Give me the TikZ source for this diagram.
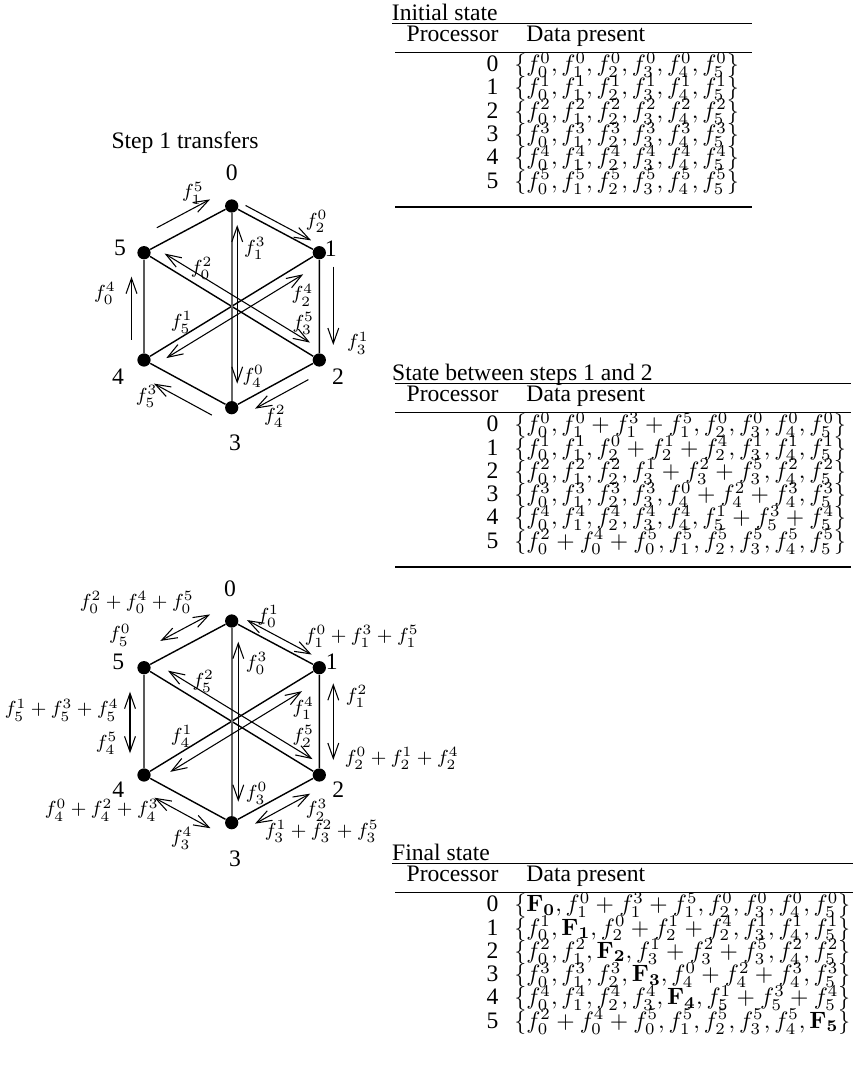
\documentclass[tikz,border=0pt]{standalone}
\usepackage[no-math]{fontspec}
\setmainfont{Liberation Serif}
\usetikzlibrary{calc,arrows.meta}
\tikzset{
  dot/.style={circle,fill=black,inner sep=0pt,minimum size=5.6pt},
  edge/.style={line width=0.6pt},
  medge/.style={line width=0.9pt,black!60},
  barb/.tip={Straight Barb[length=6.5pt,width=4.6pt]},
  arr/.style={line width=0.45pt,-barb},
  darr/.style={line width=0.45pt,barb-barb},
  lbl/.style={inner sep=0pt},
  flbl/.style={inner sep=0pt,font=\footnotesize},
  ttl/.style={inner sep=0pt,anchor=base west},
  hdr/.style={inner sep=0pt,anchor=base east},
  hdd/.style={inner sep=0pt,anchor=base west},
  rowno/.style={inner sep=0pt,anchor=base east},
  rowdat/.style={inner sep=0pt,anchor=base west},
  toprl/.style={line width=0.65pt},
  midrl/.style={line width=0.5pt},
  botrl/.style={line width=0.8pt}
}
% arrow parallel to the line a--b, shortened s1/s2 (px) at the ends, shifted d (px) to the left of a->b
\newcommand\offarr[6]{%
  \pgfmathsetmacro\oaA{#4*0.4233}%
  \pgfmathsetmacro\oaB{#5*0.4233}%
  \pgfmathsetmacro\oaD{#6*0.4233}%
  \draw[#1] ($(#2.center)!\oaA pt!(#3.center)!\oaD pt!90:(#3.center)$) -- ($(#3.center)!\oaB pt!(#2.center)!\oaD pt!-90:(#2.center)$);}
% same, shifted to the right of a->b
\newcommand\offarrR[6]{%
  \pgfmathsetmacro\oaA{#4*0.4233}%
  \pgfmathsetmacro\oaB{#5*0.4233}%
  \pgfmathsetmacro\oaD{#6*0.4233}%
  \draw[#1] ($(#2.center)!\oaA pt!(#3.center)!\oaD pt!-90:(#3.center)$) -- ($(#3.center)!\oaB pt!(#2.center)!\oaD pt!90:(#2.center)$);}
\begin{document}
\begin{tikzpicture}[x=0.4233pt,y=-0.4233pt]
\useasboundingbox (0,0) rectangle (853,1070);

%================ top hexagon: step 1 ================
\node[inner sep=0pt] (steplbl) at (185,143) {Step 1 transfers};
\node[dot] (t0) at (231.7,206) {};
\node[dot] (t1) at (319.3,252.7) {};
\node[dot] (t2) at (319.3,360) {};
\node[dot] (t3) at (231.7,407.7) {};
\node[dot] (t4) at (144,360) {};
\node[dot] (t5) at (144,252.7) {};
\draw[edge] (t0) -- (t1) -- (t2) -- (t3) -- (t4) -- (t5) -- (t0);
\draw[edge] (t1) -- (t4);
\draw[edge] (t2) -- (t5);
\draw[medge] (t0) -- (t3);
\node[lbl] (tn0) at (231.7,173) {0};
\node[lbl] (tn1) at (330.7,249) {1};
\node[lbl] (tn2) at (338,376.7) {2};
\node[lbl] (tn3) at (235,443) {3};
\node[lbl] (tn4) at (118,376.7) {4};
\node[lbl] (tn5) at (120,248) {5};

\offarr{arr}{t5}{t0}{23}{16}{16}
\offarr{arr}{t0}{t1}{12}{13}{7}
\offarr{arr}{t1}{t2}{14}{15}{14}
\offarr{arr}{t2}{t3}{19}{20}{12}
\offarr{arr}{t3}{t4}{14}{20}{16}
\offarr{arr}{t4}{t5}{20}{24}{12.5}
\offarr{darr}{t0}{t3}{19}{24}{5.5}
\offarr{darr}{t5}{t2}{18}{17}{10}
\offarrR{darr}{t4}{t1}{20}{25}{10}

\node[flbl] (a1) at (193,193) {$f_1^5$};
\node[flbl] (a2) at (316.7,221.7) {$f_2^0$};
\node[flbl] (a3) at (255,248.3) {$f_1^3$};
\node[flbl] (a4) at (201.7,268.3) {$f_0^2$};
\node[flbl] (a5) at (105,293.3) {$f_0^4$};
\node[flbl] (a6) at (302.5,295) {$f_2^4$};
\node[flbl] (a7) at (181.7,322.5) {$f_5^1$};
\node[flbl] (a8) at (303.3,323.3) {$f_3^5$};
\node[flbl] (a9) at (358,343) {$f_3^1$};
\node[flbl] (a10) at (253.3,376.7) {$f_4^0$};
\node[flbl] (a11) at (146.7,396.7) {$f_5^3$};
\node[flbl] (a12) at (275,416.7) {$f_4^2$};

%================ bottom hexagon: step 2 ================
\node[dot] (b0) at (231.7,621) {};
\node[dot] (b1) at (319.3,667.7) {};
\node[dot] (b2) at (319.3,775) {};
\node[dot] (b3) at (231.7,822.7) {};
\node[dot] (b4) at (144,775) {};
\node[dot] (b5) at (144,667.7) {};
\draw[edge] (b0) -- (b1) -- (b2) -- (b3) -- (b4) -- (b5) -- (b0);
\draw[edge] (b1) -- (b4);
\draw[edge] (b2) -- (b5);
\draw[medge] (b0) -- (b3);
\node[lbl] (bn0) at (230,588.3) {0};
\node[lbl] (bn1) at (331.7,661.7) {1};
\node[lbl] (bn2) at (338.3,790) {2};
\node[lbl] (bn3) at (235,859) {3};
\node[lbl] (bn4) at (118.3,790) {4};
\node[lbl] (bn5) at (118.3,661.7) {5};

\offarr{darr}{b5}{b0}{27}{16}{16}
\offarr{darr}{b0}{b1}{13}{13}{8}
\offarr{darr}{b1}{b2}{15.6}{15}{14}
\offarr{darr}{b2}{b3}{17}{20}{12}
\offarr{darr}{b3}{b4}{16}{20}{15}
\offarr{darr}{b4}{b5}{21.7}{24}{14}
\offarr{darr}{b0}{b3}{20.7}{21}{6.6}
\offarr{darr}{b5}{b2}{22}{14}{10}
\offarrR{darr}{b4}{b1}{24}{27}{11}

\node[flbl] (c1) at (136.7,602.7) {$f_0^2+f_0^4+f_0^5$};
\node[flbl] (c2) at (120,635) {$f_5^0$};
\node[flbl] (c3) at (268.3,616.7) {$f_0^1$};
\node[flbl] (c4) at (361.7,636.7) {$f_1^0+f_1^3+f_1^5$};
\node[flbl] (c5) at (256.7,663.3) {$f_0^3$};
\node[flbl] (c6) at (256.7,793.3) {$f_3^0$};
\node[flbl] (c7) at (203.3,681.7) {$f_5^2$};
\node[flbl] (c8) at (303.3,736.7) {$f_2^5$};
\node[flbl] (c9) at (181.7,736.7) {$f_4^1$};
\node[flbl] (c10) at (303.3,708.3) {$f_1^4$};
\node[flbl] (c11) at (356.7,696.7) {$f_1^2$};
\node[flbl] (c12) at (401.7,758.3) {$f_2^0+f_2^1+f_2^4$};
\node[flbl] (c13) at (61.7,710) {$f_5^1+f_5^3+f_5^4$};
\node[flbl] (c14) at (106.7,743.3) {$f_4^5$};
\node[flbl] (c15) at (101.7,810) {$f_4^0+f_4^2+f_4^3$};
\node[flbl] (c16) at (181.7,838.3) {$f_3^4$};
\node[flbl] (c17) at (316.7,810) {$f_2^3$};
\node[flbl] (c18) at (321.7,831.7) {$f_3^1+f_3^2+f_3^5$};

%================ table 1: initial state ================
\node[ttl] (t1title) at (391.5,20.7) {Initial state};
\draw[toprl] (392,23.5) -- (752,23.5);
\node[hdr] (t1p) at (499,41.7) {Processor};
\node[hdd] (t1d) at (526,41.7) {Data present};
\draw[midrl] (395,52.7) -- (752,52.7);
\foreach \k in {0,...,5}{
  \node[rowno] (r1n\k) at (499,71.7+23.3*\k) {\k};
  \node[rowdat] (r1d\k) at (514,71.7+23.3*\k) {$\{f_0^{\k},f_1^{\k},f_2^{\k},f_3^{\k},f_4^{\k},f_5^{\k}\}$};
}
\draw[botrl] (395,206.7) -- (752,206.7);

%================ table 2: between steps ================
\node[ttl] (t2title) at (391.7,380.7) {State between steps 1 and 2};
\draw[toprl] (395,383.5) -- (851,383.5);
\node[hdr] (t2p) at (499,401.7) {Processor};
\node[hdd] (t2d) at (526,401.7) {Data present};
\draw[midrl] (395,412.7) -- (851,412.7);
\node[rowno] (r2n0) at (499,431.7) {0};
\node[rowno] (r2n1) at (499,455) {1};
\node[rowno] (r2n2) at (499,478.3) {2};
\node[rowno] (r2n3) at (499,501.6) {3};
\node[rowno] (r2n4) at (499,524.9) {4};
\node[rowno] (r2n5) at (499,548.2) {5};
\node[rowdat] (r2d0) at (514,431.7) {$\{f_0^0,f_1^0+f_1^3+f_1^5,f_2^0,f_3^0,f_4^0,f_5^0\}$};
\node[rowdat] (r2d1) at (514,455) {$\{f_0^1,f_1^1,f_2^0+f_2^1+f_2^4,f_3^1,f_4^1,f_5^1\}$};
\node[rowdat] (r2d2) at (514,478.3) {$\{f_0^2,f_1^2,f_2^2,f_3^1+f_3^2+f_3^5,f_4^2,f_5^2\}$};
\node[rowdat] (r2d3) at (514,501.6) {$\{f_0^3,f_1^3,f_2^3,f_3^3,f_4^0+f_4^2+f_4^3,f_5^3\}$};
\node[rowdat] (r2d4) at (514,524.9) {$\{f_0^4,f_1^4,f_2^4,f_3^4,f_4^4,f_5^1+f_5^3+f_5^4\}$};
\node[rowdat] (r2d5) at (514,548.2) {$\{f_0^2+f_0^4+f_0^5,f_1^5,f_2^5,f_3^5,f_4^5,f_5^5\}$};
\draw[botrl] (395,566.7) -- (851,566.7);

%================ table 3: final state ================
\node[ttl] (t3title) at (391.7,860.7) {Final state};
\draw[toprl] (392,863.5) -- (853,863.5);
\node[hdr] (t3p) at (499,881.7) {Processor};
\node[hdd] (t3d) at (526,881.7) {Data present};
\draw[midrl] (395,892.7) -- (853,892.7);
\node[rowno] (r3n0) at (499,911.7) {0};
\node[rowno] (r3n1) at (499,935) {1};
\node[rowno] (r3n2) at (499,958.3) {2};
\node[rowno] (r3n3) at (499,981.6) {3};
\node[rowno] (r3n4) at (499,1004.9) {4};
\node[rowno] (r3n5) at (499,1028.2) {5};
\node[rowdat] (r3d0) at (514,911.7) {$\{\mathbf{F_0},f_1^0+f_1^3+f_1^5,f_2^0,f_3^0,f_4^0,f_5^0\}$};
\node[rowdat] (r3d1) at (514,935) {$\{f_0^1,\mathbf{F_1},f_2^0+f_2^1+f_2^4,f_3^1,f_4^1,f_5^1\}$};
\node[rowdat] (r3d2) at (514,958.3) {$\{f_0^2,f_1^2,\mathbf{F_2},f_3^1+f_3^2+f_3^5,f_4^2,f_5^2\}$};
\node[rowdat] (r3d3) at (514,981.6) {$\{f_0^3,f_1^3,f_2^3,\mathbf{F_3},f_4^0+f_4^2+f_4^3,f_5^3\}$};
\node[rowdat] (r3d4) at (514,1004.9) {$\{f_0^4,f_1^4,f_2^4,f_3^4,\mathbf{F_4},f_5^1+f_5^3+f_5^4\}$};
\node[rowdat] (r3d5) at (514,1028.2) {$\{f_0^2+f_0^4+f_0^5,f_1^5,f_2^5,f_3^5,f_4^5,\mathbf{F_5}\}$};
\end{tikzpicture}
\end{document}
